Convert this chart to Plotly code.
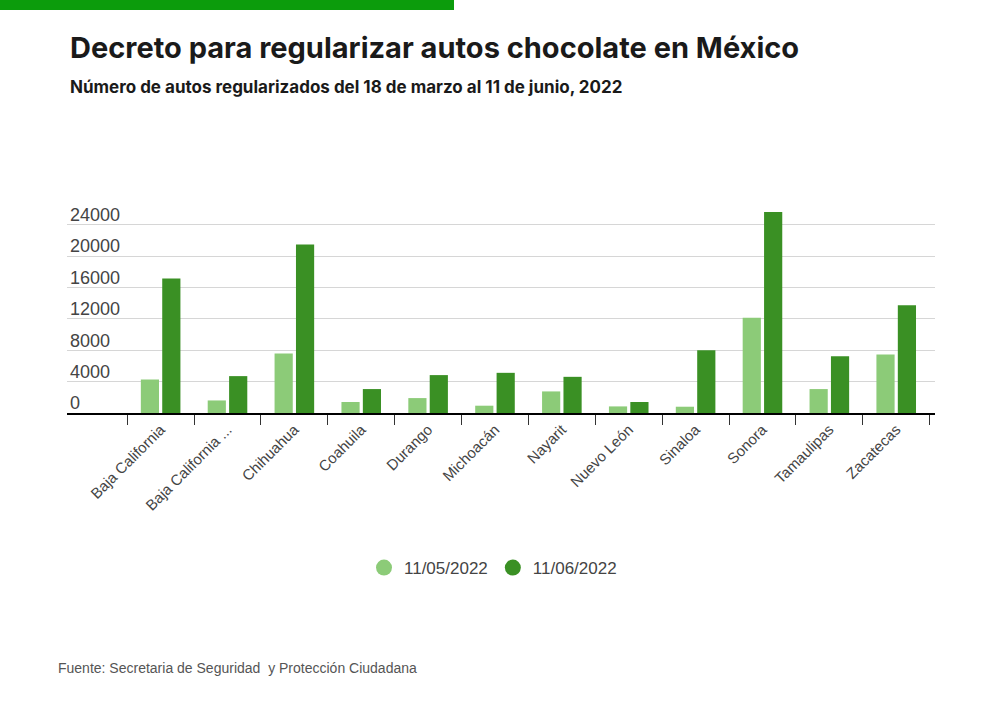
"""Autos chocolate regularizados por estado (bar chart)."""

import plotly.graph_objects as go

# Data
estados = [
    "Baja California",
    "Baja California ...",
    "Chihuahua",
    "Coahuila",
    "Durango",
    "Michoacán",
    "Nayarit",
    "Nuevo León",
    "Sinaloa",
    "Sonora",
    "Tamaulipas",
    "Zacatecas",
]
autos_11_05 = [4270, 1600, 7570, 1400, 1900, 930, 2750, 840, 800, 12150, 3050, 7450]
autos_11_06 = [17150, 4700, 21470, 3050, 4830, 5120, 4610, 1400, 8000, 25620, 7240, 13720]
series_names = ["11/05/2022", "11/06/2022"]
y_ticks = [0, 4000, 8000, 12000, 16000, 20000, 24000]

LIGHT = "#8ccb78"
DARK = "#3a9024"
W, H = 1000, 701
M_L, M_R, M_T, M_B = 67, 65, 209, 288


def py(pix):
    """Pixel row (from top) -> paper y."""
    plot_h = H - M_T - M_B
    return (H - M_B - pix) / plot_h


def px_(pix):
    """Pixel column -> paper x."""
    plot_w = W - M_L - M_R
    return (pix - M_L) / plot_w


fig = go.Figure()
for name, vals, col in [
    (series_names[0], autos_11_05, LIGHT),
    (series_names[1], autos_11_06, DARK),
]:
    fig.add_trace(
        go.Bar(
            x=estados,
            y=vals,
            name=name,
            marker={"color": col, "line": {"width": 0}},
            showlegend=False,
        )
    )
    # legend entry with a round symbol
    fig.add_trace(
        go.Scatter(
            x=[None],
            y=[None],
            mode="markers",
            name=name,
            marker={"color": col, "size": 20, "symbol": "circle"},
        )
    )

fig.update_layout(
    width=W,
    height=H,
    margin={"l": M_L, "r": M_R, "t": M_T, "b": M_B},
    paper_bgcolor="white",
    plot_bgcolor="white",
    barmode="group",
    bargap=0.36,
    bargroupgap=0.15,
    font={"family": "Liberation Sans, Arial, sans-serif", "color": "#444"},
    legend={
        "orientation": "h",
        "xref": "container",
        "yref": "container",
        "x": 0.493,
        "xanchor": "center",
        "y": 1 - 568 / H,
        "yanchor": "middle",
        "font": {"size": 17, "color": "#444"},
    },
    shapes=[
        {
            "type": "rect",
            "xref": "paper",
            "yref": "paper",
            "x0": px_(0),
            "x1": px_(454),
            "y0": py(0),
            "y1": py(10),
            "fillcolor": "#0c9c0c",
            "line": {"width": 0},
        }
    ],
    annotations=[
        {
            "text": "<b>Decreto para regularizar autos chocolate en México</b>",
            "xref": "paper",
            "yref": "paper",
            "x": px_(68),
            "y": py(47),
            "xanchor": "left",
            "yanchor": "middle",
            "showarrow": False,
            "font": {"family": "Inter, sans-serif", "size": 29, "color": "#1a1a1a"},
        },
        {
            "text": "<b>Número de autos regularizados del 18 de marzo al 11 de junio, 2022</b>",
            "xref": "paper",
            "yref": "paper",
            "x": px_(68),
            "y": py(87),
            "xanchor": "left",
            "yanchor": "middle",
            "showarrow": False,
            "font": {"family": "Inter, sans-serif", "size": 17, "color": "#1a1a1a"},
        },
        {
            "text": "Fuente: Secretaria de Seguridad  y Protección Ciudadana",
            "xref": "paper",
            "yref": "paper",
            "x": px_(56),
            "y": py(668),
            "xanchor": "left",
            "yanchor": "middle",
            "showarrow": False,
            "font": {"family": "Liberation Sans, Arial, sans-serif", "size": 14, "color": "#555"},
        },
    ],
)

fig.update_xaxes(
    type="category",
    range=[-1.4, 11.58],
    showline=True,
    linecolor="black",
    linewidth=2,
    ticks="outside",
    tickson="boundaries",
    ticklen=10,
    tickcolor="#333",
    tickwidth=1,
    tickangle=-45,
    tickfont={"size": 15, "color": "#444"},
    showgrid=False,
)
fig.update_yaxes(
    range=[0, 26000],
    tickvals=y_ticks,
    ticktext=[str(v) for v in y_ticks],
    ticklabelposition="inside",
    ticklabeloverflow="allow",
    ticklabelshift=-10,
    ticks="",
    showline=False,
    zeroline=False,
    showgrid=True,
    gridcolor="#d6d6d6",
    gridwidth=1,
    tickfont={"size": 18, "color": "#444"},
)

fig.write_html(
    "out.html",
    config={"displayModeBar": False},
    post_script="document.body.style.margin = '0';",
)
